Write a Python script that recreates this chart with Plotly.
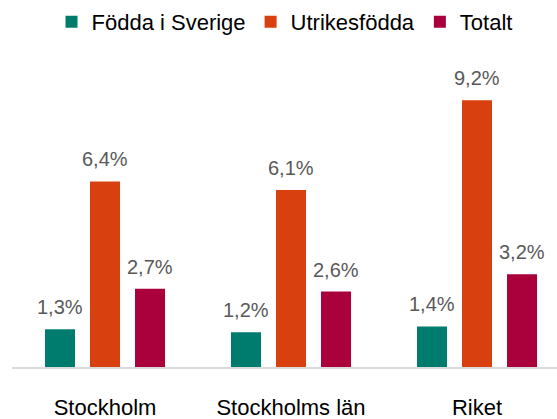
import plotly.graph_objects as go

categories = ["Stockholm", "Stockholms län", "Riket"]
series_names = ["Födda i Sverige", "Utrikesfödda", "Totalt"]
fodda_i_sverige = [1.3, 1.2, 1.4]
utrikesfodda = [6.4, 6.1, 9.2]
totalt = [2.7, 2.6, 3.2]
colors = ["#007C6E", "#D9400F", "#AA003C"]

series_values = [fodda_i_sverige, utrikesfodda, totalt]

def fmt(v):
    return f"{v:.1f}".replace(".", ",") + "%"

fig = go.Figure()
for name, vals, col in zip(series_names, series_values, colors):
    fig.add_trace(go.Bar(
        x=categories, y=vals, name=name,
        marker=dict(color=col, line=dict(width=0)),
        hoverinfo="skip",
    ))

W, H = 557, 419
ml, mr, mt, mb = 12, 0, 55, 52
xrange_ = [-0.5, 2.43]
bargap = 0.274
plot_w = W - ml - mr
cat_px = plot_w / (xrange_[1] - xrange_[0])
slot = cat_px * (1 - bargap) / 3
offsets = [-slot, 0, slot]

annotations = []
for i, vals in enumerate(series_values):
    for cat, v in zip(categories, vals):
        annotations.append(dict(
            x=cat, y=v, xref="x", yref="y", text=fmt(v), showarrow=False,
            xshift=offsets[i], yshift=9, yanchor="bottom",
            font=dict(family="Liberation Sans, Arial, sans-serif", size=20, color="#595959"),
        ))

ymax = (H - mb - mt) / 29.0

fig.update_layout(
    width=W, height=H,
    margin=dict(l=ml, r=mr, t=mt, b=mb, autoexpand=False),
    paper_bgcolor="white", plot_bgcolor="white",
    barmode="group", bargap=bargap, bargroupgap=0.333,
    font=dict(family="Liberation Sans, Arial, sans-serif", size=22, color="#000000"),
    legend=dict(orientation="h", x=0.5, xanchor="center", y=0.998, yanchor="top",
                yref="container", font=dict(size=22, color="#000000"),
                itemwidth=30, tracegroupgap=0, bgcolor="rgba(0,0,0,0)"),
    xaxis=dict(showline=True, linecolor="#D9D9D9", linewidth=1.5, showgrid=False,
               automargin=False, range=xrange_,
               ticks="", tickfont=dict(size=22, color="#000000"), ticklabelstandoff=20),
    yaxis=dict(visible=False, range=[0, ymax], showgrid=False, zeroline=False,
               automargin=False),
    annotations=annotations,
    showlegend=True,
)

fig.write_html("out.html", config={"displayModeBar": False},
               post_script="document.body.style.margin='0px';document.body.style.overflow='hidden';")
